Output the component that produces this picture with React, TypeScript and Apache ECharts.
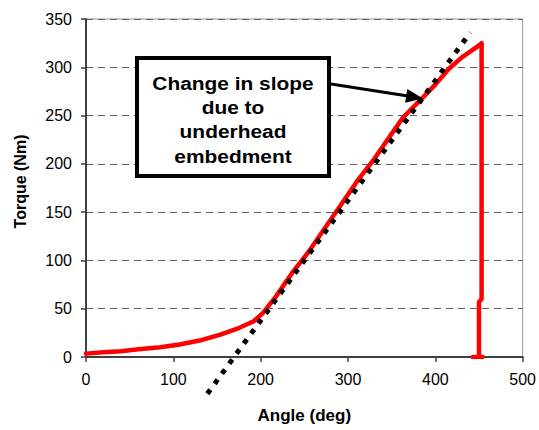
import React, { useEffect, useRef } from "react";
import * as echarts from "echarts";

const angles = [0, 20, 40, 60, 85, 107, 130, 153, 175, 192, 202, 217, 236, 255, 274, 293, 312, 330, 343, 363, 385, 400, 415, 430, 446, 453, 453, 450, 450, 443, 454];
const torques = [3.5, 5, 6, 8, 10, 13, 17, 23, 30, 37, 45, 62, 87, 109, 134, 159, 184, 205, 222, 248, 268, 282, 298, 310, 320, 325, 60, 57, 0, 0, 0];

const fitAngles = [139, 440];
const fitTorques = [-38, 336];

const noteLines = ["Change in slope", "due to", "underhead", "embedment"];

const FONT = "'Liberation Sans', Arial, sans-serif";

export default function App() {
  const ref = useRef<HTMLDivElement>(null);
  useEffect(() => {
    if (!ref.current) return;
    const chart = echarts.init(ref.current, null, { renderer: "svg" });
    const lineTexts = noteLines.map((t, i) => ({
      type: "text",
      x: 233,
      y: 83 + i * 24.4,
      scaleX: 1.1,
      z: 102,
      style: {
        text: t,
        fontFamily: FONT,
        fontWeight: "bold",
        fontSize: 19,
        fill: "#000",
        align: "center",
        verticalAlign: "middle",
      },
    }));
    chart.setOption({
      animation: false,
      backgroundColor: "#fff",
      textStyle: { fontFamily: FONT },
      grid: {
        left: 86,
        right: 15,
        top: 19,
        bottom: 73,
        show: true,
        borderColor: "#999",
        borderWidth: 1,
        backgroundColor: "transparent",
      },
      xAxis: {
        type: "value",
        min: 0,
        max: 500,
        interval: 100,
        name: "Angle (deg)",
        nameLocation: "middle",
        nameGap: 50,
        nameTextStyle: { fontFamily: FONT, fontWeight: "bold", fontSize: 17, color: "#000" },
        axisLine: { show: true, onZero: false, lineStyle: { color: "#404040", width: 2 } },
        axisTick: { show: true, inside: false, length: 5, lineStyle: { color: "#404040", width: 1.5 } },
        axisLabel: { fontFamily: FONT, fontSize: 16, color: "#000", margin: 14 },
        splitLine: { show: false },
      },
      yAxis: {
        type: "value",
        min: 0,
        max: 350,
        interval: 50,
        name: "Torque (Nm)",
        nameLocation: "middle",
        nameGap: 58,
        nameTextStyle: { fontFamily: FONT, fontWeight: "bold", fontSize: 16, color: "#000", padding: [0, 0, 0, 13] },
        axisLine: { show: true, onZero: false, lineStyle: { color: "#404040", width: 2 } },
        axisTick: { show: true, inside: false, length: 5, lineStyle: { color: "#404040", width: 1.5 } },
        axisLabel: { fontFamily: FONT, fontSize: 16, color: "#000", margin: 14 },
        splitLine: { show: true, lineStyle: { color: "#606060", width: 1, type: [7, 5] } },
      },
      series: [
        {
          type: "line",
          data: angles.map((a, i) => [a, torques[i]]),
          showSymbol: false,
          symbol: "none",
          lineStyle: { color: "#ff0000", width: 4.5, join: "round", cap: "round" },
          z: 3,
        },
        {
          type: "line",
          data: fitAngles.map((a, i) => [a, fitTorques[i]]),
          showSymbol: false,
          symbol: "none",
          clip: false,
          lineStyle: { color: "#000", width: 5, type: [5, 7.4], cap: "butt" },
          z: 4,
        },
      ],
      graphic: [
        {
          type: "rect",
          z: 100,
          shape: { x: 137, y: 58, width: 192, height: 118 },
          style: { fill: "#fff", stroke: "#000", lineWidth: 4 },
        },
        ...lineTexts,
        {
          type: "line",
          z: 100,
          shape: { x1: 331, y1: 84, x2: 408, y2: 96 },
          style: { stroke: "#000", lineWidth: 3 },
        },
        {
          type: "polygon",
          z: 100,
          shape: { points: [[423, 98.5], [407.3, 88.9], [405.1, 102.7]] },
          style: { fill: "#000" },
        },
      ],
    });
    return () => chart.dispose();
  }, []);
  return <div ref={ref} style={{ position: "fixed", left: 0, top: 0, width: 539, height: 430 }} />;
}
